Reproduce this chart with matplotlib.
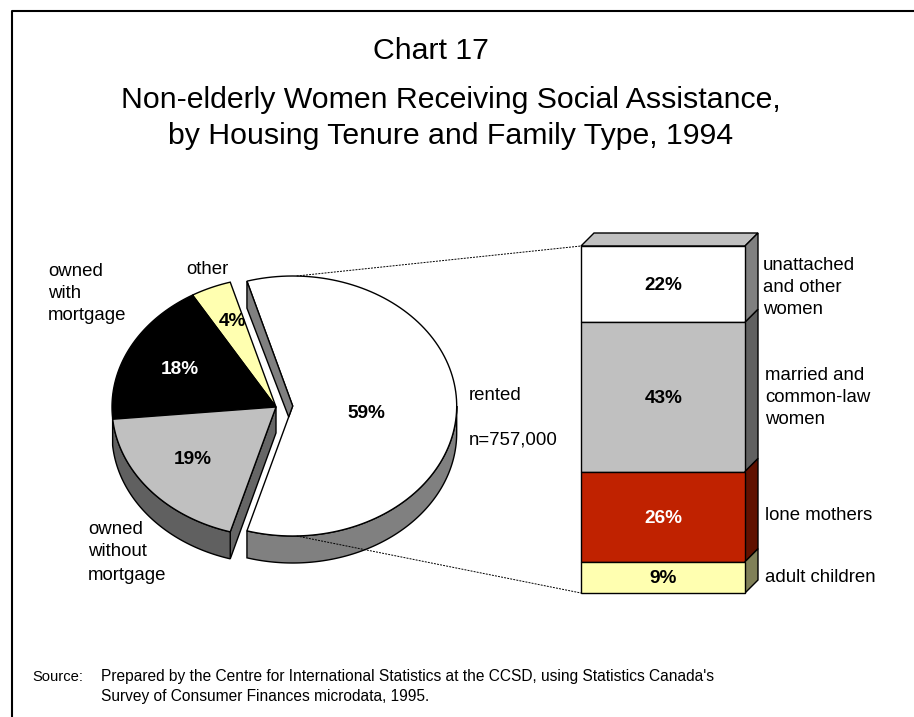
import numpy as np
import matplotlib
matplotlib.use('Agg')
from matplotlib import pyplot as plt
from matplotlib.patches import Polygon

plt.rcParams['font.family'] = ['Liberation Sans', 'DejaVu Sans']

pie_labels = ['rented', 'other', 'owned with mortgage', 'owned without mortgage']
pie_values = [59, 4, 18, 19]
pie_colors = ['#ffffff', '#ffffb0', '#000000', '#c0c0c0']
pie_text_colors = ['black', 'black', 'white', 'black']

stack_labels = ['unattached and other women', 'married and common-law women', 'lone mothers', 'adult children']
stack_values = [22, 43, 26, 9]
stack_colors = ['#ffffff', '#c0c0c0', '#c02200', '#ffffb0']
stack_side_colors = ['#808080', '#606060', '#601100', '#808058']
stack_text_colors = ['black', 'black', 'white', 'black']

W, H = 914, 717
RX, RY, DEPTH = 164, 130, 27
SLICE_C = (292.7, 406)
REST_C = (276, 407)
BOX_L, BOX_R, BOX_T, BOX_B = 581, 745, 246, 593
BOX_D = 13


def px(n):
    return n * 0.72


def arc(center, t0, t1, drop=0, n=120):
    t = np.radians(np.linspace(t0, t1, n))
    return np.column_stack([center[0] + RX * np.cos(t), center[1] + drop - RY * np.sin(t)])


def poly(ax, pts, color, z=2, lw=1.0):
    ax.add_patch(Polygon(pts, closed=True, facecolor=color, edgecolor='black', linewidth=lw, zorder=z))


fig = plt.figure(figsize=(W / 100, H / 100), dpi=100)
ax = fig.add_axes([0, 0, 1, 1])
ax.set_xlim(0, W)
ax.set_ylim(H, 0)
ax.axis('off')

# frame, open on the right and at the bottom
ax.plot([12, 12, W + 2], [H + 2, 11, 11], color='black', lw=1.5, zorder=1)

# rented slice, centred on 0 degrees
half = pie_values[0] * 3.6 / 2
tip = np.array(SLICE_C)
rented_top = arc(SLICE_C, -half, half)
drop = np.array([0, DEPTH])
poly(ax, np.vstack([arc(SLICE_C, -half, 0), arc(SLICE_C, 0, -half, DEPTH)]), '#808080', z=2)
poly(ax, np.vstack([tip, rented_top]), pie_colors[0], z=3)
poly(ax, [rented_top[-1], tip, tip + [-4, 11], rented_top[-1] + drop], '#808080', z=4)

# the other three slices carry on counter-clockwise
ends = half + np.cumsum(pie_values[1:]) * 3.6
starts = np.r_[half, ends[:-1]]
rest = np.array(REST_C)
last = arc(REST_C, starts[-1], ends[-1])
poly(ax, [rest, rest + drop * 0.85 + [0, 3], last[-1] + drop, last[-1]], '#666666', z=2)
poly(ax, np.vstack([arc(REST_C, 185, ends[-1]), arc(REST_C, ends[-1], 185, DEPTH)]), '#606060', z=2)
for val_start, val_end, col in zip(starts, ends, pie_colors[1:]):
    poly(ax, np.vstack([rest, arc(REST_C, val_start, val_end)]), col, z=3)

# dotted leader lines from the slice to the box
ax.plot([SLICE_C[0] + 4, BOX_L], [SLICE_C[1] - RY, BOX_T], color='black', lw=0.7, ls=(0, (2, 1.2)), zorder=5)
ax.plot([SLICE_C[0] + 4, BOX_L], [SLICE_C[1] + RY, BOX_B], color='black', lw=0.7, ls=(0, (2, 1.2)), zorder=5)

# pie percents
pie_text_pos = [(366, 414), (232, 321), (180, 370), (193, 459)]
for v, c, (x, y) in zip(pie_values, pie_text_colors, pie_text_pos):
    ax.text(x, y, f'{v}%', ha='center', va='center', fontsize=px(19), fontweight='bold', color=c, zorder=6)

# stacked box
heights = np.array(stack_values) / sum(stack_values) * (BOX_B - BOX_T)
tops = BOX_T + np.r_[0, np.cumsum(heights)[:-1]]
poly(ax, [(BOX_L, BOX_T), (BOX_L + BOX_D, BOX_T - BOX_D), (BOX_R + BOX_D, BOX_T - BOX_D), (BOX_R, BOX_T)], '#c0c0c0')
for top, h, col, side, v, tc in zip(tops, heights, stack_colors, stack_side_colors, stack_values, stack_text_colors):
    poly(ax, [(BOX_R, top), (BOX_R + BOX_D, top - BOX_D), (BOX_R + BOX_D, top + h - BOX_D), (BOX_R, top + h)], side)
    poly(ax, [(BOX_L, top), (BOX_R, top), (BOX_R, top + h), (BOX_L, top + h)], col)
    ax.text((BOX_L + BOX_R) / 2 + 0.5, top + h / 2 + 1.5, f'{v}%', ha='center', va='center',
            fontsize=px(19), fontweight='bold', color=tc, zorder=6)

# titles
ax.text(431, 51, 'Chart 17', ha='center', va='center', fontsize=px(30.2))
ax.text(451, 100.5, 'Non-elderly Women Receiving Social Assistance,', ha='center', va='center', fontsize=px(30.2))
ax.text(451, 136, 'by Housing Tenure and Family Type, 1994', ha='center', va='center', fontsize=px(30.2))

# category labels
label_fs = px(18.6)
for x, y, s in [
    (48, 272, 'owned'), (48, 294, 'with'), (48, 316, 'mortgage'),
    (186, 269, 'other'),
    (469, 396, 'rented'), (469, 440, 'n=757,000'),
    (88, 530, 'owned'), (88, 552, 'without'), (88, 575, 'mortgage'),
    (763, 266, 'unattached'), (763, 288, 'and other'), (763, 310, 'women'),
    (765, 375, 'married and'), (765, 397, 'common-law'), (765, 419, 'women'),
    (765, 516, 'lone mothers'),
    (765, 577, 'adult children'),
]:
    ax.text(x, y, s, ha='left', va='center', fontsize=label_fs)

# source note
ax.text(32, 677, 'Source:', ha='left', va='center', fontsize=px(14.8))
ax.text(101, 677, "Prepared by the Centre for International Statistics at the CCSD, using Statistics Canada's",
        ha='left', va='center', fontsize=px(15.5))
ax.text(101, 696, 'Survey of Consumer Finances microdata, 1995.', ha='left', va='center', fontsize=px(15.5))

fig.savefig('out.png', dpi=100)
